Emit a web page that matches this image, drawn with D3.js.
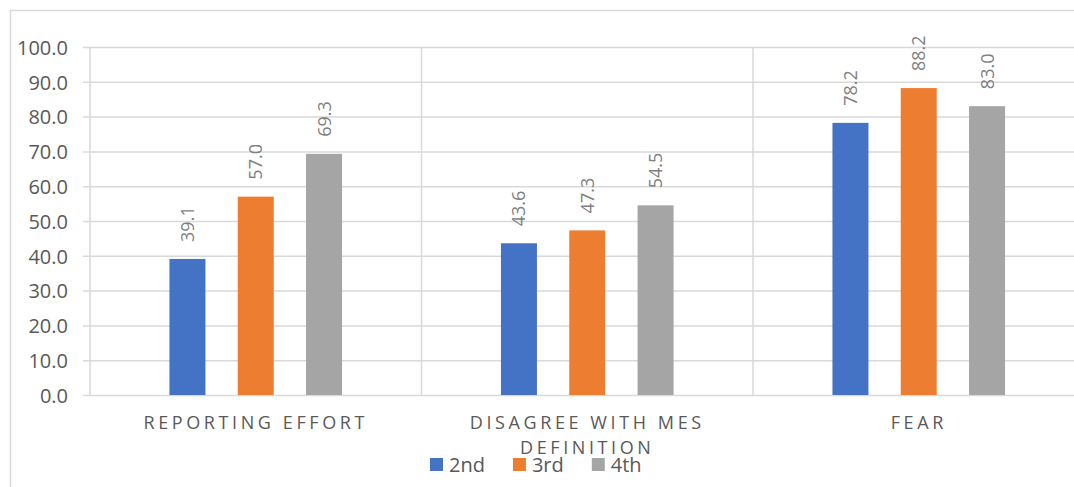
<!DOCTYPE html>
<html>
<head>
<meta charset="utf-8">
<script src="https://cdn.jsdelivr.net/npm/d3@7"></script>
<style>
  body { margin: 0; background: #fff; }
  svg { display: block; font-family: "Open Sans", "Noto Sans", sans-serif; }
</style>
</head>
<body>
<svg id="chart"></svg>
<script>
const SVG_WIDTH = 1074;
const SVG_HEIGHT = 487;

const categories = ["REPORTING EFFORT", "DISAGREE WITH MES DEFINITION", "FEAR"];
const series = ["2nd", "3rd", "4th"];
const values_2nd = [39.1, 43.6, 78.2];
const values_3rd = [57.0, 47.3, 88.2];
const values_4th = [69.3, 54.5, 83.0];
const y_ticks = [0, 10, 20, 30, 40, 50, 60, 70, 80, 90, 100];
const colors = ["#4472c4", "#ed7d31", "#a5a5a5"];

const PLOT_LEFT = 90, PLOT_RIGHT = 1084.5, PLOT_TOP = 47, PLOT_BOTTOM = 395;
const GRID = "#d9d9d9";

function wrap(textSel, maxWidth) {
    textSel.each(function() {
        let text = d3.select(this);
        let words = text.text().split(" ");
        let x = text.attr("x") || 0;
        let y = text.attr("y");
        text.text(null);
        let line = [];
        let lineNo = 0;
        let tspan = text.append("tspan").attr("x", x).attr("y", y);
        words.forEach(w => {
            line.push(w);
            tspan.text(line.join(" "));
            if (tspan.node().getComputedTextLength() > maxWidth && line.length > 1) {
                line.pop();
                tspan.text(line.join(" "));
                line = [w];
                lineNo++;
                tspan = text.append("tspan").attr("x", x).attr("y", y)
                    .attr("dy", (lineNo * 25) + "px").text(w);
            }
        });
    });
}

function draw_chart() {
    let svg = d3.select("#chart")
        .attr("width", SVG_WIDTH)
        .attr("height", SVG_HEIGHT);

    svg.append("rect").attr("width", SVG_WIDTH).attr("height", SVG_HEIGHT).attr("fill", "#fff");

    // outer frame (top + left visible)
    svg.append("path")
        .attr("d", "M10.5," + SVG_HEIGHT + "V10.5H" + SVG_WIDTH)
        .attr("fill", "none").attr("stroke", GRID).attr("stroke-width", 1.5);

    let y = d3.scaleLinear().domain([0, 100]).range([PLOT_BOTTOM, PLOT_TOP]);
    let x0 = d3.scaleBand().domain(categories).range([PLOT_LEFT, PLOT_RIGHT]).padding(0);
    let x1 = d3.scaleBand().domain(series).range([0, x0.bandwidth()])
        .paddingInner(0.473).paddingOuter(1.163);

    // value axis + gridlines
    let yAxis = svg.append("g")
        .attr("transform", "translate(83,0)")
        .call(d3.axisLeft(y).tickValues(y_ticks).tickFormat(d3.format(".1f"))
            .tickSize(-(SVG_WIDTH - 83 + 20)).tickPadding(15));
    yAxis.select(".domain").remove();
    yAxis.selectAll(".tick line").attr("stroke", GRID).attr("stroke-width", 1.5);
    yAxis.selectAll(".tick text")
        .attr("fill", "#595959").attr("font-size", "20px")
        .attr("font-family", "Open Sans").attr("dy", "0.36em");

    // category separators
    let bounds = categories.map(c => x0(c));
    svg.append("g").selectAll("line")
        .data(bounds)
        .enter()
        .append("line")
        .attr("x1", d => d).attr("x2", d => d)
        .attr("y1", PLOT_TOP).attr("y2", PLOT_BOTTOM)
        .attr("stroke", GRID).attr("stroke-width", 1.5);

    // bars
    let rows = [];
    let all = [values_2nd, values_3rd, values_4th];
    categories.forEach((c, i) => {
        series.forEach((s, j) => {
            rows.push({ cat: c, ser: s, val: all[j][i], color: colors[j] });
        });
    });

    svg.append("g").selectAll("rect")
        .data(rows)
        .enter()
        .append("rect")
        .attr("x", d => x0(d.cat) + x1(d.ser))
        .attr("y", d => y(d.val))
        .attr("width", x1.bandwidth())
        .attr("height", d => y(0) - y(d.val))
        .attr("fill", d => d.color);

    // data labels (rotated)
    svg.append("g").selectAll("text")
        .data(rows)
        .enter()
        .append("text")
        .attr("transform", d => {
            let cx = x0(d.cat) + x1(d.ser) + x1.bandwidth() / 2;
            return "translate(" + cx + "," + (y(d.val) - 17) + ") rotate(-90)";
        })
        .attr("dy", "0.36em")
        .attr("fill", "#7f7f7f")
        .attr("font-size", "18px")
        .text(d => d3.format(".1f")(d.val));

    // category labels
    let xAxis = svg.append("g")
        .attr("transform", "translate(0," + PLOT_BOTTOM + ")")
        .call(d3.axisBottom(x0).tickSize(0).tickPadding(0));
    xAxis.select(".domain").remove();
    xAxis.selectAll(".tick text")
        .attr("fill", "#595959")
        .attr("font-size", "18px")
        .attr("font-family", "Open Sans")
        .attr("letter-spacing", "3.6px")
        .attr("dy", null)
        .attr("y", 34)
        .call(wrap, 290);

    // legend
    let legend = svg.append("g").attr("transform", "translate(430,0)");
    let lx = 0;
    series.forEach((s, j) => {
        legend.append("rect")
            .attr("x", lx).attr("y", 458).attr("width", 13).attr("height", 13)
            .attr("fill", colors[j]);
        let t = legend.append("text")
            .attr("x", lx + 19).attr("y", 472)
            .attr("fill", "#595959").attr("font-size", "20px")
            .text(s);
        lx += 19 + t.node().getComputedTextLength() + 28;
    });
}

window.onload = function init(e) {
    draw_chart();
};
</script>
</body>
</html>
